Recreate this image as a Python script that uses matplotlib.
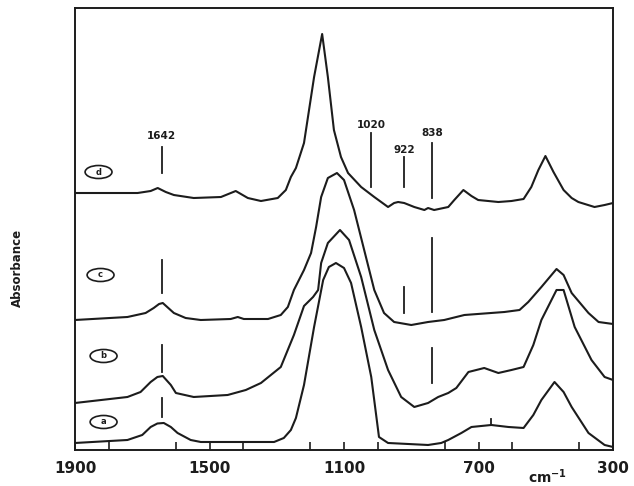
import matplotlib
matplotlib.use("Agg")
import matplotlib.pyplot as plt
from matplotlib.patches import Ellipse
from matplotlib.ticker import MultipleLocator

# ---------------- spectra (wavenumber cm-1, absorbance a.u.) ----------------
wn_a = [1900, 1744, 1700, 1675, 1655, 1636, 1615, 1595, 1556, 1526, 1308, 1279,
        1258, 1243, 1219, 1189, 1162, 1145, 1124, 1100, 1079, 1049, 1019, 996,
        969, 850, 811, 790, 751, 721, 662, 611, 566, 537, 513, 474, 447, 423,
        373, 325, 300]
abs_a = [0.09, 0.12, 0.17, 0.25, 0.285, 0.29, 0.25, 0.19, 0.12, 0.10, 0.10, 0.14,
         0.22, 0.34, 0.67, 1.25, 1.72, 1.85, 1.89, 1.84, 1.69, 1.25, 0.75, 0.15,
         0.09, 0.07, 0.09, 0.12, 0.19, 0.25, 0.27, 0.25, 0.24, 0.37, 0.52, 0.70,
         0.60, 0.45, 0.19, 0.07, 0.05]

wn_b = [1900, 1744, 1705, 1675, 1655, 1639, 1615, 1600, 1547, 1446, 1392, 1347,
        1288, 1249, 1219, 1192, 1177, 1168, 1148, 1112, 1085, 1049, 1010, 969,
        930, 891, 850, 820, 790, 766, 730, 683, 641, 602, 566, 537, 513, 468,
        447, 414, 364, 325, 300]
abs_b = [0.49, 0.55, 0.60, 0.70, 0.75, 0.76, 0.67, 0.59, 0.55, 0.57, 0.62, 0.69,
         0.85, 1.17, 1.46, 1.55, 1.62, 1.89, 2.09, 2.22, 2.12, 1.75, 1.22, 0.82,
         0.55, 0.45, 0.49, 0.55, 0.59, 0.64, 0.80, 0.84, 0.79, 0.82, 0.85, 1.07,
         1.32, 1.62, 1.62, 1.25, 0.92, 0.75, 0.72]

wn_c = [1900, 1744, 1690, 1666, 1650, 1639, 1606, 1571, 1526, 1437, 1416, 1398,
        1326, 1288, 1267, 1249, 1219, 1198, 1183, 1168, 1148, 1121, 1100, 1070,
        1040, 1010, 981, 951, 900, 850, 802, 742, 623, 578, 552, 513, 468, 447,
        423, 373, 343, 300]
abs_c = [1.32, 1.35, 1.39, 1.44, 1.48, 1.49, 1.39, 1.34, 1.32, 1.33, 1.35, 1.33,
         1.33, 1.37, 1.45, 1.62, 1.82, 1.99, 2.25, 2.55, 2.74, 2.79, 2.72, 2.42,
         2.02, 1.62, 1.39, 1.30, 1.27, 1.30, 1.32, 1.37, 1.40, 1.42, 1.50, 1.65,
         1.83, 1.77, 1.59, 1.39, 1.30, 1.28]

wn_d = [1900, 1794, 1714, 1675, 1654, 1630, 1606, 1547, 1466, 1422, 1386, 1347,
        1297, 1273, 1258, 1243, 1219, 1189, 1165, 1148, 1130, 1109, 1088, 1049,
        1010, 969, 951, 939, 921, 891, 861, 850, 832, 790, 772, 745, 721, 701,
        641, 602, 566, 543, 522, 501, 477, 447, 423, 403, 355, 325, 300]
abs_d = [2.59, 2.59, 2.59, 2.61, 2.64, 2.60, 2.57, 2.54, 2.55, 2.61, 2.54, 2.51,
         2.54, 2.62, 2.75, 2.84, 3.09, 3.75, 4.18, 3.75, 3.22, 2.95, 2.79, 2.65,
         2.55, 2.45, 2.49, 2.50, 2.49, 2.45, 2.42, 2.44, 2.42, 2.45, 2.52, 2.62,
         2.56, 2.52, 2.50, 2.51, 2.53, 2.65, 2.82, 2.96, 2.80, 2.62, 2.54, 2.50,
         2.45, 2.47, 2.49]

# band markers: (wavenumber, lower end, upper end)
marks_d = [(1642, 2.79, 3.05), (1020, 2.65, 3.19), (922, 2.65, 2.95), (838, 2.54, 3.09)]
marks_c = [(1642, 1.59, 1.92), (922, 1.39, 1.65), (838, 1.40, 2.14)]
marks_b = [(1642, 0.80, 1.07), (838, 0.69, 1.04)]
marks_a = [(1642, 0.35, 0.54), (662, 0.27, 0.33)]

# band labels above trace d: (text, wavenumber, height)
band_labels = [("1642", 1642, 3.16), ("1020", 1020, 3.27), ("922", 922, 3.02), ("838", 838, 3.19)]

# trace tags: (letter, wavenumber, height)
tags = [("d", 1830, 2.80), ("c", 1824, 1.77), ("b", 1815, 0.96), ("a", 1815, 0.30)]

xtick_major = [1900, 1500, 1100, 700, 300]

ink = "#1c1c1c"

fig = plt.figure(figsize=(6.34, 4.86), dpi=100)
ax = fig.add_axes([0.1183, 0.0741, 0.8486, 0.9094])

for wn, ab in [(wn_a, abs_a), (wn_b, abs_b), (wn_c, abs_c), (wn_d, abs_d)]:
    ax.plot(wn, ab, color=ink, lw=1.5, solid_joinstyle="round", solid_capstyle="round")

for marks in (marks_d, marks_c, marks_b, marks_a):
    for x, y0, y1 in marks:
        ax.plot([x, x], [y0, y1], color=ink, lw=1.3)

for txt, x, y in band_labels:
    ax.text(x, y, txt, ha="center", va="center", fontsize=7.5,
            fontweight="bold", color=ink)

for letter, x, y in tags:
    ax.add_patch(Ellipse((x, y), width=80, height=0.13, fill=False,
                         edgecolor=ink, lw=1.2))
    ax.text(x, y, letter, ha="center", va="center", fontsize=6,
            fontweight="bold", color=ink)

ax.set_xlim(1900, 300)
ax.set_ylim(0.02, 4.44)

ax.set_xticks(xtick_major)
ax.set_xticklabels([str(v) for v in xtick_major], fontsize=11, fontweight="bold", color=ink)
ax.xaxis.set_minor_locator(MultipleLocator(200))
ax.tick_params(axis="x", which="both", direction="in", length=6, width=1.2,
               color=ink, pad=8)
ax.set_yticks([])

for sp in ax.spines.values():
    sp.set_linewidth(1.4)
    sp.set_color(ink)

fig.text(0.027, 0.449, "Absorbance", rotation=90, ha="center", va="center",
         fontsize=8.5, fontweight="bold", color=ink)
fig.text(0.863, 0.006, r"cm$^{\mathbf{-1}}$", ha="center", va="baseline",
         fontsize=10, fontweight="bold", color=ink)

fig.savefig("out.png", dpi=100)
